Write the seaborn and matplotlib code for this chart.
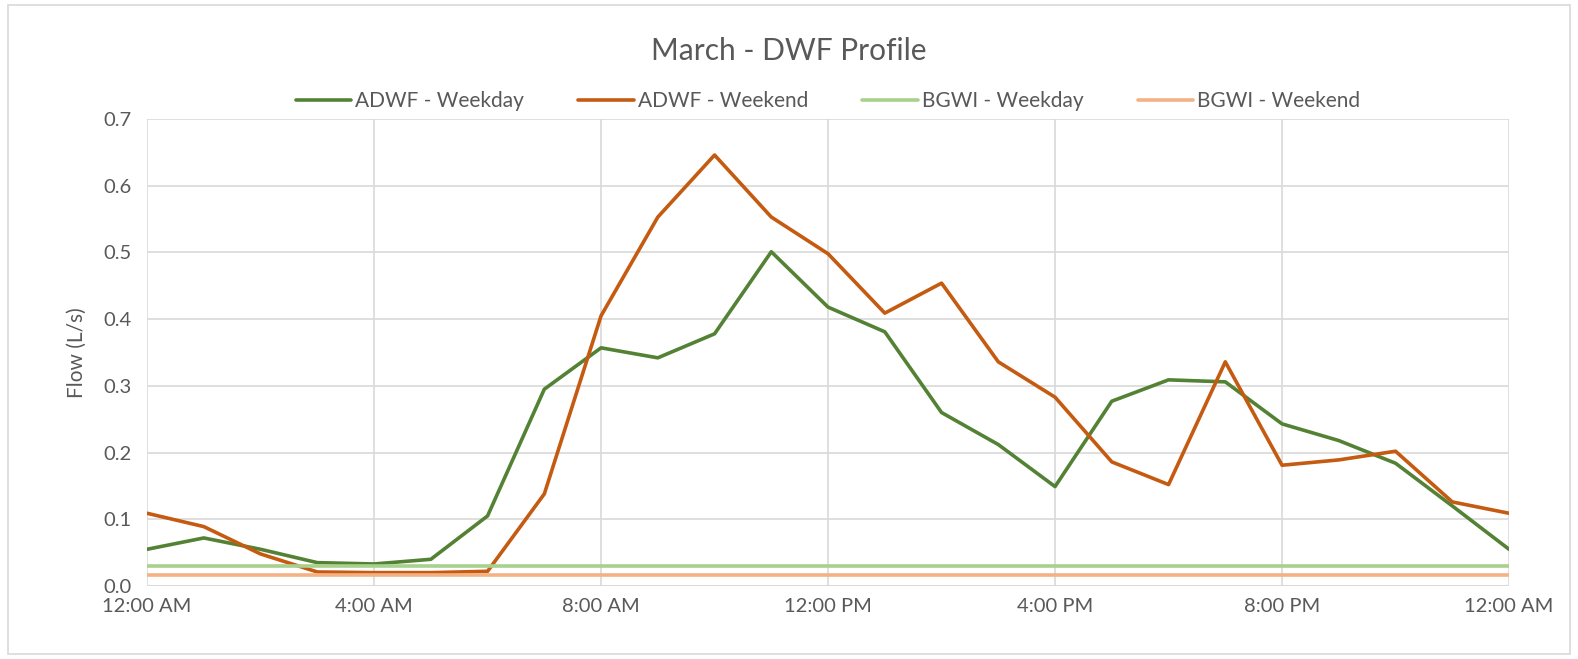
import numpy as np
import pandas as pd
import matplotlib
matplotlib.use("Agg")
import matplotlib.pyplot as plt
import seaborn as sns
from matplotlib.patches import Rectangle

# hourly DWF profile values (L/s), 12:00 AM .. 12:00 AM next day
hours = list(range(25))
adwf_weekday = [0.055, 0.072, 0.055, 0.035, 0.033, 0.040, 0.105, 0.295, 0.357, 0.342,
                0.378, 0.501, 0.418, 0.381, 0.260, 0.212, 0.149, 0.277, 0.309, 0.306,
                0.243, 0.218, 0.184, 0.120, 0.055]
adwf_weekend = [0.109, 0.089, 0.048, 0.021, 0.020, 0.020, 0.022, 0.138, 0.405, 0.553,
                0.646, 0.553, 0.498, 0.409, 0.454, 0.336, 0.283, 0.186, 0.152, 0.336,
                0.181, 0.189, 0.202, 0.126, 0.109]
bgwi_weekday = [0.030] * 25
bgwi_weekend = [0.016] * 25

series_names = ["ADWF - Weekday", "ADWF - Weekend", "BGWI - Weekday", "BGWI - Weekend"]
tick_hours = [0, 4, 8, 12, 16, 20, 24]
tick_labels = ["12:00 AM", "4:00 AM", "8:00 AM", "12:00 PM", "4:00 PM", "8:00 PM", "12:00 AM"]

df = pd.DataFrame({
    "hour": hours * 4,
    "flow": adwf_weekday + adwf_weekend + bgwi_weekday + bgwi_weekend,
    "series": sum([[n] * 25 for n in series_names], []),
})

palette = {"ADWF - Weekday": "#548235", "ADWF - Weekend": "#C55A11",
           "BGWI - Weekday": "#A9D18E", "BGWI - Weekend": "#F4B183"}

sns.set_style("white")
plt.rcParams["font.family"] = ["Lato", "DejaVu Sans"]
text_col = "#595959"

fig = plt.figure(figsize=(15.78, 6.59), dpi=100)
ax = fig.add_axes([0.0932, 0.1108, 0.9563 - 0.0932, 0.8194 - 0.1108])

sns.lineplot(data=df, x="hour", y="flow", hue="series", palette=palette,
             hue_order=series_names, linewidth=2.6, ax=ax, legend=True)

ax.set_xlim(0, 24)
ax.set_ylim(0, 0.7)
ax.set_yticks(np.arange(0, 0.71, 0.1))
ax.set_yticklabels([f"{v:.1f}" for v in np.arange(0, 0.71, 0.1)])
ax.set_xticks(tick_hours)
ax.set_xticklabels(tick_labels)
ax.tick_params(axis="both", colors=text_col, labelsize=14.5, length=0)
ax.tick_params(axis="x", pad=9)
ax.tick_params(axis="y", pad=11)
ax.grid(True, color="#D9D9D9", linewidth=1.2)
ax.set_axisbelow(True)
for s in ax.spines.values():
    s.set_visible(False)
ax.axhline(0, color="#D9D9D9", linewidth=1.4, zorder=0)

ax.set_xlabel("")
ax.set_ylabel("Flow (L/s)", color=text_col, fontsize=15, labelpad=12)

ax.legend(loc="lower center", bbox_to_anchor=(0.5, 0.995), ncol=4, frameon=False,
          fontsize=15, labelcolor=text_col, handlelength=2.65, handletextpad=0.2,
          columnspacing=2.6, borderaxespad=0.1)

fig.text(0.5, 0.922, "March - DWF Profile", ha="center", va="center",
         fontsize=21.5, color=text_col)

fig.patches.append(Rectangle((0.005, 0.008), 0.99, 0.984, transform=fig.transFigure,
                             fill=False, edgecolor="#D9D9D9", linewidth=1.2))

fig.savefig("out.png", dpi=100)
